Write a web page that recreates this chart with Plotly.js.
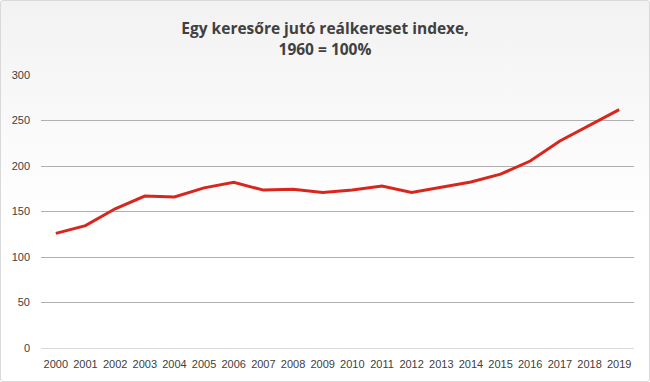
<!DOCTYPE html>
<html><head><meta charset="utf-8">
<script src="https://cdn.plot.ly/plotly-3.0.1.min.js"></script>
<style>
html,body{margin:0;padding:0;width:650px;height:382px;overflow:hidden;background:#fff;}
#wrap{position:absolute;left:0;top:0;width:648px;height:380px;border:1px solid #d9d9d9;border-radius:3px;
background:linear-gradient(to bottom,#f2f2f2 0%,#fafafa 35%,#ffffff 60%,#ffffff 100%);}
#chart{position:absolute;left:-1px;top:-1px;width:650px;height:382px;}
</style></head>
<body><div id="wrap"><div id="chart"></div></div>
<script>
const years = ['2000','2001','2002','2003','2004','2005','2006','2007','2008','2009','2010','2011','2012','2013','2014','2015','2016','2017','2018','2019'];
const values = [126,134.5,153,167,166,176,182,173.5,174.5,171,173.5,178,171,177,182.5,191,205.5,227.5,245,262];
const yTicks = [0,50,100,150,200,250,300];

Plotly.newPlot('chart',[{
  x: years, y: values, type:'scatter', mode:'lines',
  line:{color:'#d9261c', width:3}, hoverinfo:'x+y'
}],{
  width:650, height:382,
  paper_bgcolor:'rgba(0,0,0,0)', plot_bgcolor:'rgba(0,0,0,0)',
  margin:{l:41,r:16,t:75,b:34},
  showlegend:false,
  title:{text:'<b>Egy keresőre jutó reálkereset indexe,<br>1960 = 100%</b>',
    font:{family:'Open Sans, Noto Sans, sans-serif', size:15.5, color:'#404040'},
    x:0.5, xanchor:'center', y:0.91, yanchor:'top'},
  xaxis:{type:'category', range:[-0.5,19.5], tickvals:years, ticktext:years, showgrid:false, zeroline:false,
    showline:false, ticks:'', ticklabelstandoff:8, tickfont:{family:'Liberation Sans Narrow, Liberation Sans, sans-serif', size:11, color:'#404040'},
    tickangle:0, fixedrange:true},
  yaxis:{range:[0,300], tickvals:yTicks, ticktext:yTicks.map(String), showgrid:true, gridcolor:'#b0b0b0', gridwidth:1,
    zeroline:true, zerolinecolor:'#d9d9d9', zerolinewidth:1, showline:false, ticks:'', ticklabelstandoff:10,
    tickfont:{family:'Liberation Sans Narrow, Liberation Sans, sans-serif', size:11, color:'#404040'}, fixedrange:true}
},{displayModeBar:false, staticPlot:true});
</script></body></html>
